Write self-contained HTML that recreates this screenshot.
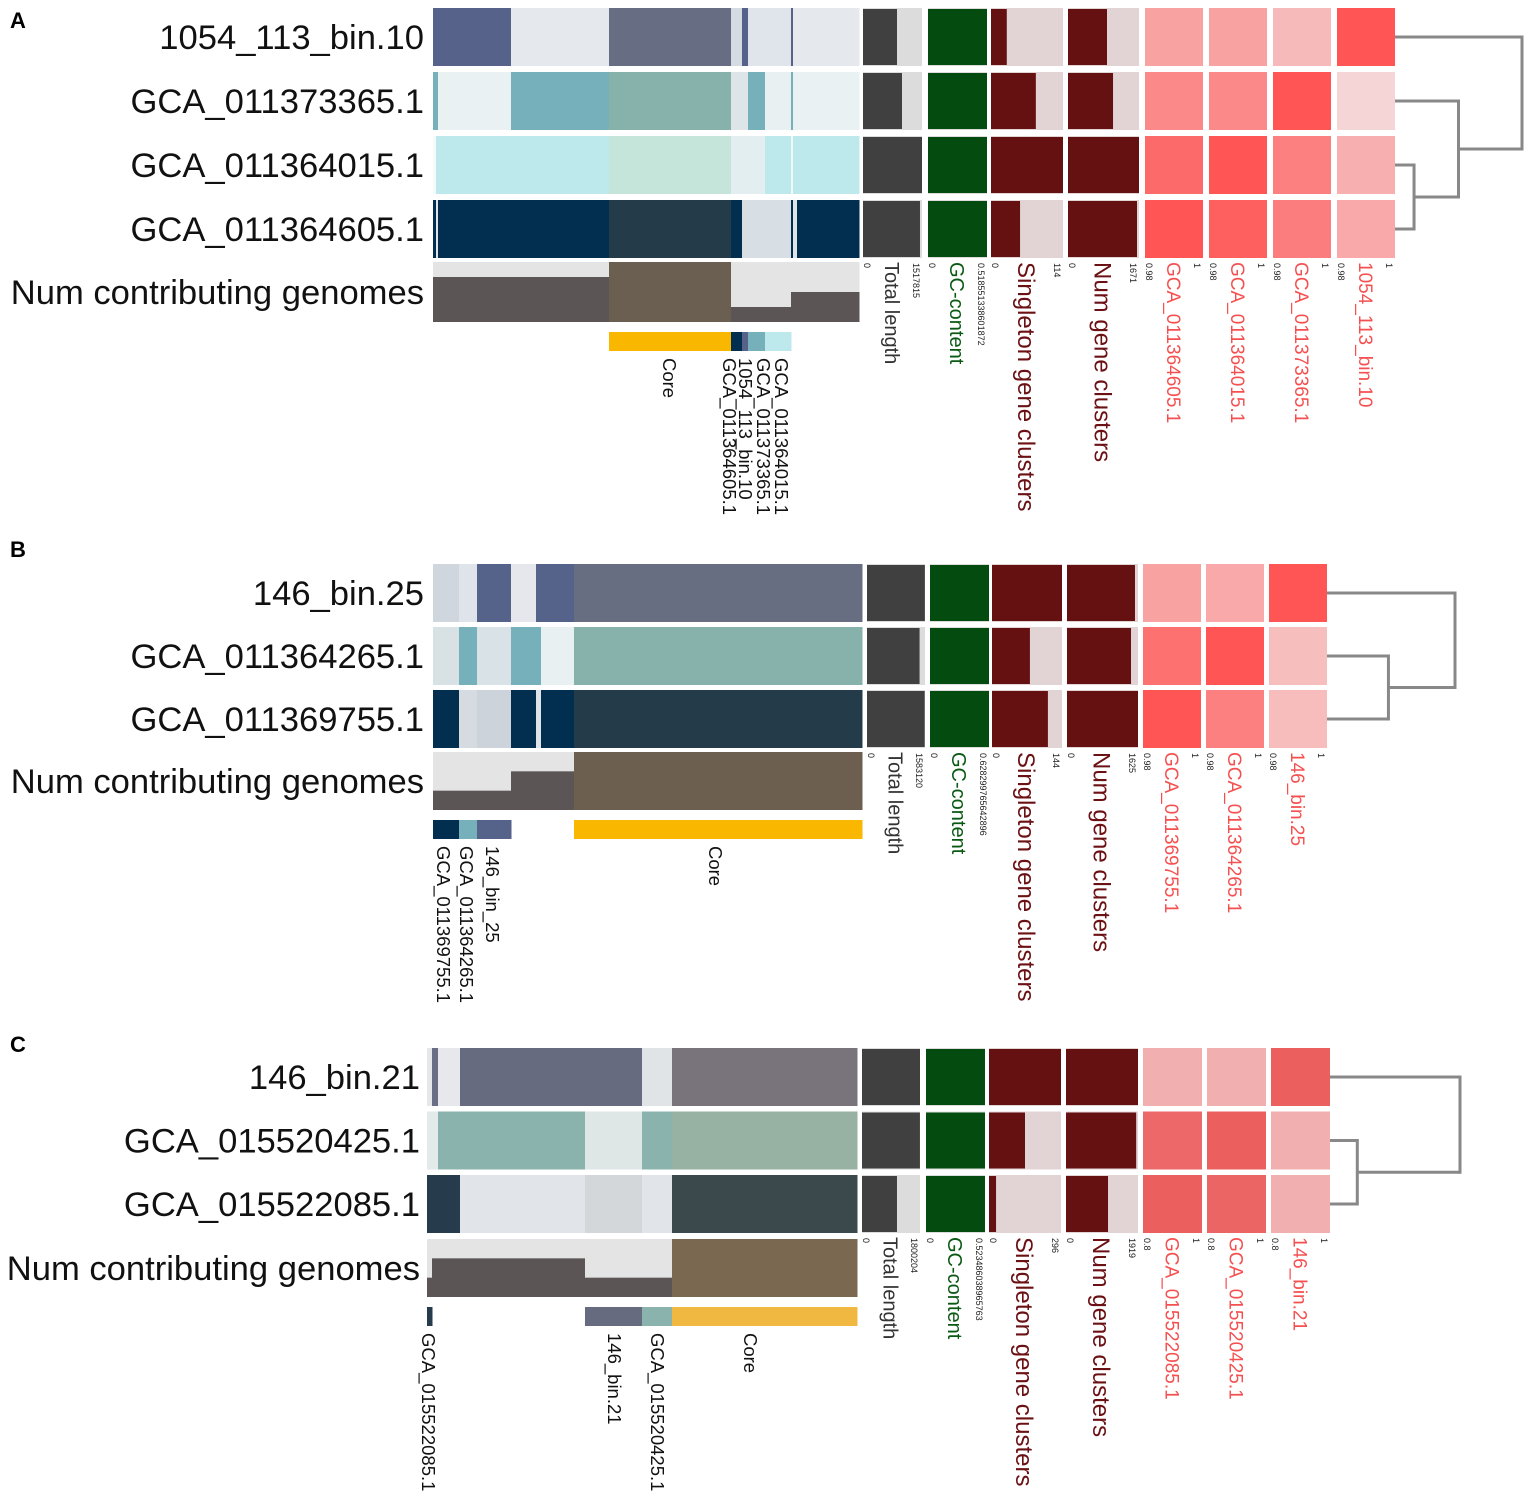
<!DOCTYPE html>
<html><head><meta charset="utf-8">
<style>
html,body{margin:0;padding:0;background:#fff;}
svg{display:block;font-family:"Liberation Sans",Arial,sans-serif;}
</style></head>
<body>
<svg id="fig" width="1535" height="1502" viewBox="0 0 1535 1502" xmlns="http://www.w3.org/2000/svg">
  <text x="10" y="28" font-size="22" font-weight="bold">A</text>
  <text x="10" y="557" font-size="22" font-weight="bold">B</text>
  <text x="10" y="1052" font-size="22" font-weight="bold">C</text>
</svg>
<script>
// ===== Panel A data =====
const A_genomes = ['1054_113_bin.10','GCA_011373365.1','GCA_011364015.1','GCA_011364605.1'];
const A_totalLength = [875000, 1003000, 1517815, 1466000];
const A_totalMax = 1517815;
const A_gc = [0.5185, 0.5185, 0.5185, 0.5185];
const A_gcMax = '0.518551338601872';
const A_singletons = [25, 71, 114, 46];
const A_singletonMax = 114;
const A_numClusters = [918, 1060, 1671, 1624];
const A_numClustersMax = 1671;
const A_aniCols = ['GCA_011364605.1','GCA_011364015.1','GCA_011373365.1','1054_113_bin.10'];
const A_ani = [[0.9884,0.9884,0.9848,1.0],[0.9922,0.9922,1.0,0.9808],[0.9968,1.0,0.9936,0.9864],[1.0,0.9984,0.994,0.9874]];
const A_aniMin = 0.98;
const A_bounds = [0,3,5,78,176,298,309,315,332,358,360,364,426];
const A_cells = [
 ['#566289','#566289','#566289','#e5e8ed','#676d82','#d5dbe2','#566289','#e0e5ec','#e0e5ec','#566289','#e5e8ed','#e5e8ed'],
 ['#76b1bb','#76b1bb','#e9f1f3','#76b1bb','#87b2ab','#dde5e8','#dde5e8','#76b1bb','#e8f0f2','#76b1bb','#e9f1f3','#e9f1f3'],
 ['#f4f9fa','#bde8ec','#bde8ec','#bde8ec','#c5e5da','#e2eef0','#e2eef0','#e2eef0','#bde8ec','#f0f8f8','#bde8ec','#bde8ec'],
 ['#022f50','#e0e4e8','#022f50','#022f50','#243b4a','#022f50','#d8dfe4','#d8dfe4','#d8dfe4','#022f50','#e0e4e8','#022f50']];
const A_contrib = [3,3,3,3,4,1,1,1,1,2,2,2];
const A_binColors = [null,null,null,null,'#f9b700','#022f50','#566289','#76b1bb','#bde8ec',null,null,null];
const A_binLabels = ['Core','GCA_011364605.1','1054_113_bin.10','GCA_011373365.1','GCA_011364015.1'];
const A_binLabelPos = [237,297,313,331,349];
const A_tree = [[2,3,0.15],[1,4,0.5],[0,5,1.0]];

// ===== Panel B data =====
const B_genomes = ['146_bin.25','GCA_011364265.1','GCA_011369755.1'];
const B_totalLength = [1580000, 1435000, 1575000];
const B_totalMax = 1583120;
const B_gc = [0.6283, 0.6283, 0.6283];
const B_gcMax = '0.628299765642896';
const B_singletons = [144, 78, 115];
const B_singletonMax = 144;
const B_numClusters = [1556, 1465, 1625];
const B_numClustersMax = 1625;
const B_aniCols = ['GCA_011369755.1','GCA_011364265.1','146_bin.25'];
const B_ani = [[0.9884,0.9874,1.0],[0.9958,1.0,0.9842],[1.0,0.9936,0.9845]];
const B_aniMin = 0.98;
const B_bounds = [0,26,44,78,103,108,141,429];
const B_cells = [
 ['#d0d6de','#dfe3ea','#55628a','#e5e7ec','#55628a','#55628a','#686e82'],
 ['#d8e2e4','#76b1bb','#d9e2e6','#76b1bb','#76b1bb','#e8f0f2','#87b2ab'],
 ['#022f50','#d5dbe1','#cdd3da','#022f50','#e0e4e8','#022f50','#243b4a']];
const B_contrib = [1,1,1,2,2,2,3];
const B_binColors = ['#022f50','#76b1bb','#55628a',null,null,null,'#f9b700'];
const B_binLabels = ['GCA_011369755.1','GCA_011364265.1','146_bin_25','Core'];
const B_binLabelPos = [11,34,60,283];
const B_tree = [[1,2,0.48],[0,3,1.0]];

// ===== Panel C data =====
const C_genomes = ['146_bin.21','GCA_015520425.1','GCA_015522085.1'];
const C_totalLength = [1800204, 1798000, 1086000];
const C_totalMax = 1800204;
const C_gc = [0.5234, 0.5234, 0.5234];
const C_gcMax = '0.523486038965763';
const C_singletons = [296, 148, 29];
const C_singletonMax = 296;
const C_numClusters = [1919, 1870, 1120];
const C_numClustersMax = 1919;
const C_aniCols = ['GCA_015522085.1','GCA_015520425.1','146_bin.21'];
const C_ani = [[0.87,0.87,1.0],[0.985,1.0,0.87],[1.0,0.99,0.87]];
const C_aniMin = 0.8;
const C_bounds = [0,5,11,33,158,215,245,430];
const C_cells = [
 ['#e5e7ea','#6a6e86','#e6e8eb','#676b80','#676b80','#e0e4e6','#79747b'],
 ['#e3eaea','#e3eaea','#8bb3ae','#8bb3ae','#dfe6e6','#8bb3ae','#97b2a2'],
 ['#263b4b','#263b4b','#263b4b','#e1e4e8','#d4d7da','#e1e4e8','#3c494c']];
const C_contrib = [1,2,2,2,1,1,3];
const C_binColors = ['#263b4b',null,null,null,'#676b80','#8bb3ae','#f0b840'];
const C_binLabels = ['GCA_015522085.1','146_bin.21','GCA_015520425.1','Core'];
const C_binLabelPos = [2,188,231,324];
const C_tree = [[1,2,0.21],[0,3,1.0]];

// ===== layout (geometry only) =====
const NS='http://www.w3.org/2000/svg';
const svg=document.getElementById('fig');
function mk(tag,attrs,parent){const e=document.createElementNS(NS,tag);for(const k in attrs)e.setAttribute(k,attrs[k]);(parent||svg).appendChild(e);return e;}
function lerp(a,b,t){return Math.round(a+(b-a)*t);}
function aniColor(v,min,hi){const t=Math.max(0,Math.min(1,(v-min)/(1-min)));return 'rgb('+lerp(245,hi[0],t)+','+lerp(218,hi[1],t)+','+lerp(218,hi[2],t)+')';}
function vtext(g,x,y,str,size,color,name){
  const t=mk('text',{transform:'translate('+x+','+y+') rotate(90)','font-size':size,fill:color},g);
  t.textContent=str;
  
  
  return t;
}

function drawPanel(p){
  const g=mk('g',{});
  
  
  const n=p.genomes.length;
  const rowY=i=>p.y0+i*p.step;
  const gx=v=>p.gx0+(p.gx1-p.gx0)*v/p.bounds[p.bounds.length-1];
  p.genomes.forEach((name,i)=>{
    const t=mk('text',{x:p.labelX,y:rowY(i)+p.h/2+12,'font-size':34.6,'text-anchor':'end',fill:'#111'},g);
    t.textContent=name;
    
    
  });
  const nl=mk('text',{x:p.labelX,y:p.numY+p.numH/2+12,'font-size':34.6,'text-anchor':'end',fill:'#111'},g);
  nl.textContent='Num contributing genomes';
  
  
  p.cells.forEach((row,i)=>{
    row.forEach((c,j)=>{
      const r=mk('rect',{x:gx(p.bounds[j]),y:rowY(i),width:gx(p.bounds[j+1])-gx(p.bounds[j])+0.5,height:p.h,fill:c},g);
      
      
    });
  });
  p.contrib.forEach((k,j)=>{
    const x=gx(p.bounds[j]),w=gx(p.bounds[j+1])-x+0.5;
    const bg=mk('rect',{x:x,y:p.numY,width:w,height:p.numH,fill:'#e4e4e4'},g);
    
    
    const hh=p.numH*k/n;
    const r=mk('rect',{x:x,y:p.numY+p.numH-hh,width:w,height:hh,fill:k===n?p.coreBrown:'#5c5556'},g);
    
    
  });
  p.binColors.forEach((c,j)=>{
    if(!c)return;
    const r=mk('rect',{x:gx(p.bounds[j]),y:p.binY,width:gx(p.bounds[j+1])-gx(p.bounds[j])+0.5,height:19,fill:c},g);
    
    
  });
  p.binLabels.forEach((s,i)=>{vtext(g,gx(p.binLabelPos[i])-7,p.binY+26,s,18.5,'#111','bin-label');});
  function barLayer(col,vals,max,bgc,fg,title,tcolor,tmax,key,tsize){
    vals.forEach((v,i)=>{
      const b=mk('rect',{x:col[0],y:rowY(i),width:col[1]-col[0],height:p.h,fill:bgc},g);
      
      
      const r=mk('rect',{x:col[0],y:rowY(i)+1,width:(col[1]-col[0])*v/max,height:p.h-2,fill:fg},g);
      
      
    });
    const ty=rowY(n-1)+p.h+5;
    vtext(g,col[0]+1,ty,'0',9,'#222',key+'-tick-min');
    vtext(g,col[1]-9,ty,String(tmax),9,'#222',key+'-tick-max');
    vtext(g,(col[0]+col[1])/2-tsize*0.38,ty-1,title,tsize,tcolor,key+'-title');
  }
  barLayer(p.cTotal,p.totalLength,p.totalMax,'#dcdcdc','#404040','Total length','#333',p.totalMax,'total-length',20);
  barLayer(p.cGC,p.gc,p.gc[0],'#dcdcdc','#044b10','GC-content','#0b5a14',p.gcMax,'gc-content',20);
  barLayer(p.cSing,p.singletons,p.singletonMax,'#e2d4d4','#651011','Singleton gene clusters','#6b1013',p.singletonMax,'singleton',24);
  barLayer(p.cNum,p.numClusters,p.numClustersMax,'#e2d4d4','#651011','Num gene clusters','#6b1013',p.numClustersMax,'num-gene-clusters',24);
  p.aniCols.forEach((name,j)=>{
    const x=p.aniX+j*p.aniStep;
    p.ani.forEach((row,i)=>{
      const r=mk('rect',{x:x,y:rowY(i),width:p.aniW,height:p.h,fill:aniColor(row[j],p.aniMin,p.aniHi)},g);
      
      
    });
    const ty=rowY(n-1)+p.h+5;
    vtext(g,x+1,ty,String(p.aniMin),9,'#222','ani-tick-min');
    vtext(g,x+p.aniW-9,ty,'1',9,'#222','ani-tick-max');
    vtext(g,x+p.aniW/2-7,ty-1,name,19,'#f55050','ani-title');
  });
  const ends=p.aniX+(p.aniCols.length-1)*p.aniStep+p.aniW;
  const dx=h=>ends+p.treeW*h;
  const nodes=p.genomes.map((_,i)=>({y:rowY(i)+p.h/2,h:0}));
  p.tree.forEach(([a,b,h])=>{
    [a,b].forEach(k=>{
      const nd=nodes[k];
      const l=mk('line',{x1:dx(nd.h),y1:nd.y,x2:dx(h),y2:nd.y,stroke:'#888','stroke-width':3},g);
      
      
    });
    const v=mk('line',{x1:dx(h),y1:nodes[a].y-1.5,x2:dx(h),y2:nodes[b].y+1.5,stroke:'#888','stroke-width':3},g);
    
    
    nodes.push({y:(nodes[a].y+nodes[b].y)/2,h:h});
  });
}

drawPanel({name:'panel-a',genomes:A_genomes,totalLength:A_totalLength,totalMax:A_totalMax,gc:A_gc,gcMax:A_gcMax,
 singletons:A_singletons,singletonMax:A_singletonMax,numClusters:A_numClusters,numClustersMax:A_numClustersMax,
 aniCols:A_aniCols,ani:A_ani,aniMin:A_aniMin,bounds:A_bounds,cells:A_cells,contrib:A_contrib,binColors:A_binColors,
 binLabels:A_binLabels,binLabelPos:A_binLabelPos,tree:A_tree,
 y0:8,step:64,h:58,numY:262,numH:60,binY:332,labelX:424,gx0:433,gx1:859,coreBrown:'#6b5f51',
 cTotal:[863,922],cGC:[928,987],cSing:[991,1063],cNum:[1068,1139],aniX:1145,aniStep:64,aniW:58,aniHi:[255,85,85],treeW:127});
drawPanel({name:'panel-b',genomes:B_genomes,totalLength:B_totalLength,totalMax:B_totalMax,gc:B_gc,gcMax:B_gcMax,
 singletons:B_singletons,singletonMax:B_singletonMax,numClusters:B_numClusters,numClustersMax:B_numClustersMax,
 aniCols:B_aniCols,ani:B_ani,aniMin:B_aniMin,bounds:B_bounds,cells:B_cells,contrib:B_contrib,binColors:B_binColors,
 binLabels:B_binLabels,binLabelPos:B_binLabelPos,tree:B_tree,
 y0:564,step:63,h:58,numY:752,numH:58,binY:820,labelX:424,gx0:433,gx1:862,coreBrown:'#6c5f50',
 cTotal:[867,925],cGC:[930,989],cSing:[992,1062],cNum:[1067,1138],aniX:1143,aniStep:63,aniW:58,aniHi:[255,85,85],treeW:128});
drawPanel({name:'panel-c',genomes:C_genomes,totalLength:C_totalLength,totalMax:C_totalMax,gc:C_gc,gcMax:C_gcMax,
 singletons:C_singletons,singletonMax:C_singletonMax,numClusters:C_numClusters,numClustersMax:C_numClustersMax,
 aniCols:C_aniCols,ani:C_ani,aniMin:C_aniMin,bounds:C_bounds,cells:C_cells,contrib:C_contrib,binColors:C_binColors,
 binLabels:C_binLabels,binLabelPos:C_binLabelPos,tree:C_tree,
 y0:1048,step:63.5,h:58,numY:1239,numH:58,binY:1307,labelX:420,gx0:427,gx1:857,coreBrown:'#7b6850',
 cTotal:[862,920],cGC:[926,985],cSing:[989,1061],cNum:[1066,1138],aniX:1143,aniStep:64,aniW:59,aniHi:[236,95,95],treeW:130});
</script>
</body></html>
